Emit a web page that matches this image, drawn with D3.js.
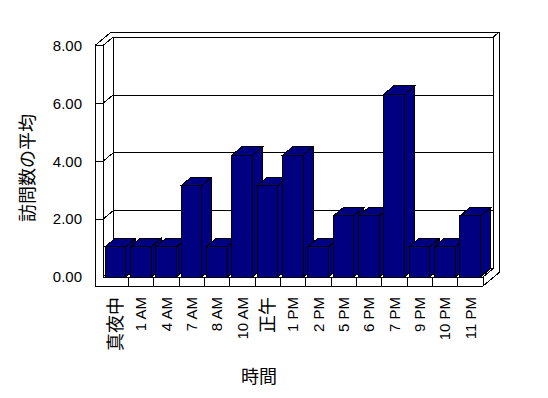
<!DOCTYPE html>
<html>
<head>
<meta charset="utf-8">
<script src="https://cdn.jsdelivr.net/npm/d3@7"></script>
<style>
  body { margin: 0; background: #fff; }
  svg { display: block; }
</style>
</head>
<body>
<div id="chart"></div>
<script>
// data
var categories = ["真夜中", "1 AM", "4 AM", "7 AM", "8 AM", "10 AM", "正午", "1 PM", "2 PM", "5 PM", "6 PM", "7 PM", "9 PM", "10 PM", "11 PM"];
var values = [1.05, 1.05, 1.05, 3.16, 1.05, 4.21, 3.16, 4.21, 1.05, 2.11, 2.11, 6.32, 1.05, 1.05, 2.11];
var yTicks = [0, 2, 4, 6, 8];
var yTitle = "訪問数の平均";
var xTitle = "時間";

var svgWidth = 548, svgHeight = 398;
// front plane of the 3D box
var plotLeft = 103, plotRight = 483, plotBottom = 277, plotTop = 45.5;
var dx = 10, dy = -8.3;       // depth offset
var wallW = 8, floorH = 9;    // wall / floor thickness
var backX = 6, backY = -5;    // back wall thickness

var svg = d3.select("#chart").append("svg")
  .attr("width", svgWidth)
  .attr("height", svgHeight)
  .style("font-family", "'Liberation Sans', Arial, 'Noto Sans CJK JP', sans-serif");

var x = d3.scaleBand().domain(categories).range([plotLeft, plotRight]);
var y = d3.scaleLinear().domain([0, 8]).range([plotBottom, plotTop]);

var line = d3.line();
var frame = svg.append("g")
  .attr("fill", "none")
  .attr("stroke", "#000")
  .attr("shape-rendering", "crispEdges");

var y0 = y(0), y8 = y(8);
var outL = plotLeft - wallW, fBot = y0 + floorH;
var paths = [
  // outer silhouette
  [[outL, fBot], [outL, y8], [outL + dx + backX, y8 + dy + backY], [plotRight + dx + backX, y8 + dy + backY],
   [plotRight + dx + backX, fBot + dy + backY], [plotRight, fBot], [outL, fBot]],
  // left wall front face + floor top front edge
  [[outL, y8], [plotLeft, y8], [plotLeft, y0], [plotRight, y0], [plotRight, fBot]],
  // back wall inner top edge
  [[plotLeft, y8], [plotLeft + dx, y8 + dy], [plotRight + dx, y8 + dy], [plotRight + dx + backX, y8 + dy + backY]],
  [[plotLeft + dx, y8 + dy], [plotLeft + dx, y0 + dy]],
  [[plotRight + dx, y8 + dy], [plotRight + dx, y0 + dy], [plotRight, y0]],
  [[plotLeft, y0], [plotLeft + dx, y0 + dy], [plotRight + dx, y0 + dy]]
];
// gridlines on left and back walls
yTicks.filter(function(t) { return t > 0 && t < 8; }).forEach(function(t) {
  paths.push([[outL, y(t)], [plotLeft, y(t)], [plotLeft + dx, y(t) + dy], [plotRight + dx, y(t) + dy]]);
});
// category dividers on the floor front
categories.slice(1).forEach(function(c) {
  paths.push([[x(c), y0], [x(c), fBot]]);
});

frame.selectAll("path")
  .data(paths)
  .enter()
  .append("path")
  .attr("d", function(d) { return line(d); });

// bars
var bw = x.bandwidth() * 0.82;
var bars = svg.append("g")
  .attr("fill", "#000080")
  .attr("stroke", "#000")
  .attr("shape-rendering", "crispEdges");

categories.forEach(function(c, i) {
  var x0 = x(c) + x.bandwidth() * 0.085;
  var yt = y(values[i]);
  var g = bars.append("g");
  g.append("path").attr("d", line([[x0 + bw, yt], [x0 + bw + dx, yt + dy], [x0 + bw + dx, y0 + dy], [x0 + bw, y0]]) + "Z");
  g.append("path").attr("d", line([[x0, yt], [x0 + bw, yt], [x0 + bw + dx, yt + dy], [x0 + dx, yt + dy]]) + "Z");
  g.append("rect")
    .attr("x", x0)
    .attr("y", yt)
    .attr("width", bw)
    .attr("height", y0 - yt);
});

// value axis labels
svg.append("g")
  .attr("transform", "translate(" + outL + ",0)")
  .call(d3.axisLeft(y).tickValues(yTicks).tickSize(0).tickPadding(13).tickFormat(d3.format(".2f")))
  .call(function(g) { g.select(".domain").remove(); })
  .selectAll("text")
  .style("font-family", "'Liberation Sans', Arial, sans-serif")
  .style("font-size", "15px")
  .attr("fill", "#000");

// category labels, rotated
svg.append("g")
  .attr("transform", "translate(0," + fBot + ")")
  .call(d3.axisBottom(x).tickSize(0))
  .call(function(g) { g.select(".domain").remove(); })
  .selectAll("text")
  .attr("transform", "rotate(-90)")
  .attr("x", -11)
  .attr("y", 0)
  .attr("dy", "0.35em")
  .style("text-anchor", "end")
  .style("font-family", "'Liberation Sans', Arial, 'Noto Sans CJK JP', sans-serif")
  .style("font-size", function(d) { return /[A-Z0-9]/.test(d) ? "15px" : "18px"; })
  .attr("fill", "#000");

// axis titles
svg.append("text")
  .attr("transform", "translate(34,168) rotate(-90)")
  .attr("text-anchor", "middle")
  .style("font-family", "'Noto Sans CJK JP', sans-serif")
  .style("font-size", "18px")
  .text(yTitle);

svg.append("text")
  .attr("x", 259)
  .attr("y", 383)
  .attr("text-anchor", "middle")
  .style("font-family", "'Noto Sans CJK JP', sans-serif")
  .style("font-size", "18px")
  .text(xTitle);
</script>
</body>
</html>
